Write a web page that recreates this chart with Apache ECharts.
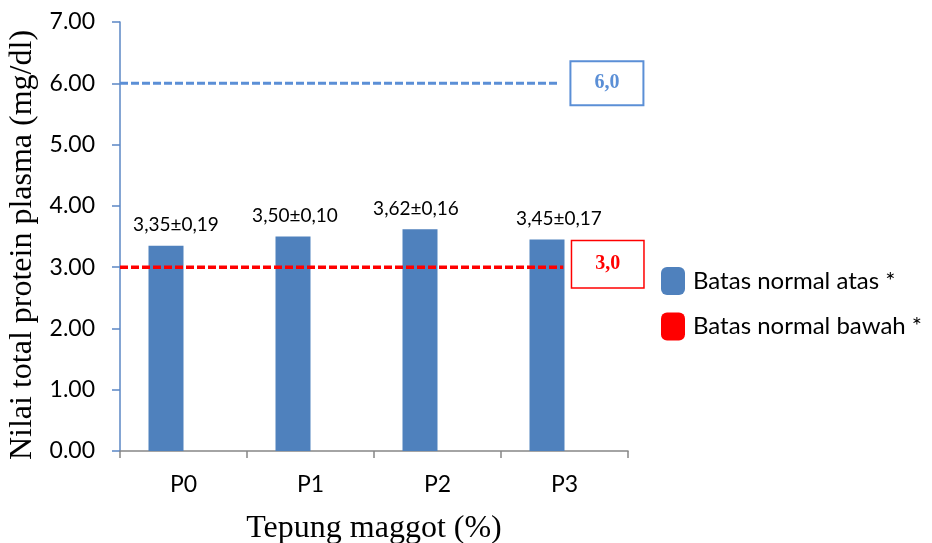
<!DOCTYPE html>
<html><head><meta charset="utf-8">
<script src="https://cdn.jsdelivr.net/npm/echarts@6/dist/echarts.min.js"></script>
<style>html,body{margin:0;padding:0;background:#fff}#c{width:932px;height:543px}</style>
</head><body><div id="c"></div>
<script>
var categories = ['P0', 'P1', 'P2', 'P3'];
var means = [3.35, 3.50, 3.62, 3.45];
var sds = [0.19, 0.10, 0.16, 0.17];
var upperLimit = 6.0;
var lowerLimit = 3.0;
var upperName = 'Batas normal atas *';
var lowerName = 'Batas normal bawah *';
var yTicks = [0, 1, 2, 3, 4, 5, 6, 7];

function fmt(v) { return v.toFixed(2).replace('.', ','); }
function fmt1(v) { return v.toFixed(1).replace('.', ','); }

// label nudges (layout only, as in the source figure)
var labelNudge = [[10, 0], [2, 0], [-4, 0], [12, 0]];
var barData = means.map(function (v, i) {
  return {value: v, label: {offset: labelNudge[i]}};
});

var chart = echarts.init(document.getElementById('c'), null, {renderer: 'canvas'});
chart.setOption({
  animation: false,
  grid: {left: 120, right: 304, top: 22, bottom: 92, containLabel: false, outerBoundsMode: 'none'},
  legend: {
    orient: 'vertical', left: 661, top: 267, padding: 0, itemWidth: 24, itemHeight: 28, itemGap: 17.5,
    textStyle: {fontFamily: 'Lato', fontSize: 24, color: '#000', padding: [0, 0, 0, 3]},
    data: [
      {name: upperName, icon: 'roundRect', itemStyle: {color: '#4f81bd'}},
      {name: lowerName, icon: 'roundRect', itemStyle: {color: '#ff0000'}}
    ]
  },
  xAxis: [{
    type: 'category', data: categories,
    name: 'Tepung maggot (%)', nameLocation: 'middle', nameGap: 62,
    nameTextStyle: {fontFamily: 'Liberation Serif', fontSize: 32, color: '#000'},
    axisLine: {lineStyle: {color: '#868686', width: 1.5}},
    axisTick: {show: true, length: 7, lineStyle: {color: '#868686', width: 1.5}},
    axisLabel: {fontFamily: 'Lato', fontSize: 23, color: '#000', margin: 22}
  }, {
    type: 'value', min: 0, max: 4, show: false
  }],
  yAxis: {
    type: 'value', min: yTicks[0], max: yTicks[yTicks.length - 1], interval: 1,
    name: 'Nilai total protein plasma (mg/dl)', nameLocation: 'middle', nameGap: 80,
    nameTextStyle: {fontFamily: 'Liberation Serif', fontSize: 32, color: '#000', padding: [0, 17, 0, 0]},
    axisLine: {show: true, lineStyle: {color: '#5b87c5', width: 1.5}},
    axisTick: {show: true, length: 8, lineStyle: {color: '#5b87c5', width: 1.5}},
    splitLine: {show: false},
    axisLabel: {fontFamily: 'Lato', fontSize: 23, color: '#000', margin: 25,
      formatter: function (v) { return v.toFixed(2); }}
  },
  series: [{
    type: 'bar', name: 'mean', data: barData, barWidth: 35, barGap: '0%',
    itemStyle: {color: '#4f81bd'},
    label: {show: true, position: 'top', distance: 11, fontFamily: 'Lato', fontSize: 19, color: '#000',
      formatter: function (p) { return fmt(means[p.dataIndex]) + '±' + fmt(sds[p.dataIndex]); }},
    z: 2
  }, {
    type: 'bar', name: 'hidden', data: categories.map(function () { return null; }), barWidth: 35,
    itemStyle: {color: 'transparent'}
  }, {
    type: 'line', name: upperName, xAxisIndex: 1, symbol: 'none',
    data: [[0, upperLimit], [3.46, upperLimit]],
    lineStyle: {color: '#5b8fd6', width: 3, type: [8, 3]},
    itemStyle: {color: '#4f81bd'},
    endLabel: {show: true, distance: 12, formatter: fmt1(upperLimit),
      fontFamily: 'Liberation Serif', fontWeight: 'bold', fontSize: 20, color: '#5b8fd6',
      backgroundColor: '#fff', borderColor: '#5b8fd6', borderWidth: 2, padding: [11, 23]},
    z: 5
  }, {
    type: 'line', name: lowerName, xAxisIndex: 1, symbol: 'none',
    data: [[0, lowerLimit], [3.49, lowerLimit]],
    lineStyle: {color: '#ff0000', width: 3.5, type: [8, 3]},
    itemStyle: {color: '#ff0000'},
    endLabel: {show: true, distance: 9, offset: [0, -3], formatter: fmt1(lowerLimit),
      fontFamily: 'Liberation Serif', fontWeight: 'bold', fontSize: 20, color: '#ff0000',
      backgroundColor: '#fff', borderColor: '#ff0000', borderWidth: 1.5, padding: [13, 23]},
    z: 5
  }]
});
</script></body></html>
